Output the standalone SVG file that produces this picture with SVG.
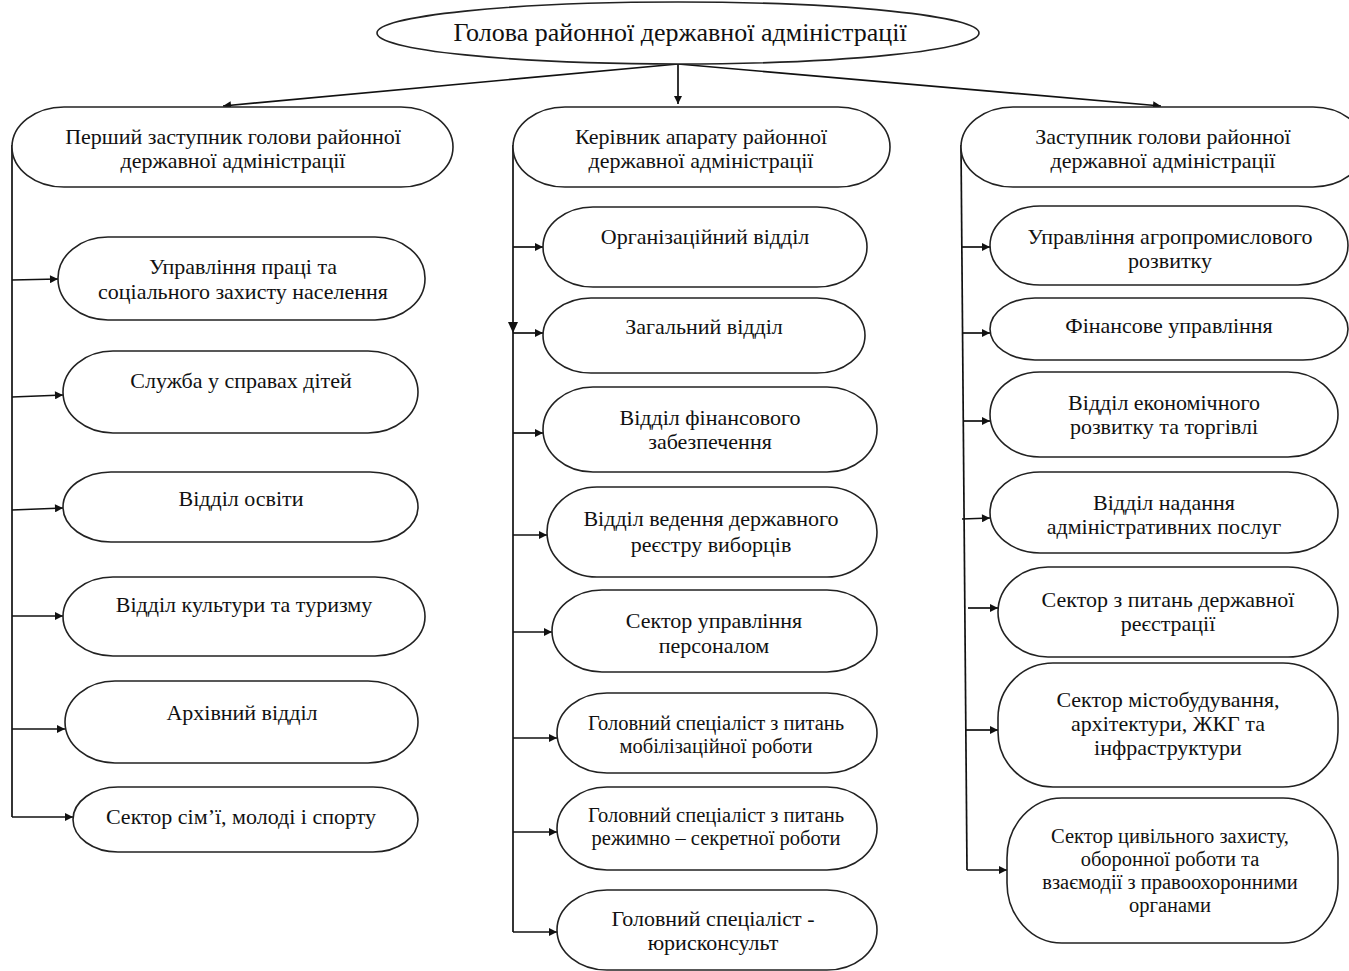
<svg xmlns="http://www.w3.org/2000/svg" width="1349" height="971" viewBox="0 0 1349 971">
<style>
.n{fill:#fff;stroke:#222;stroke-width:1.6}
.t{font-family:"Liberation Serif","Times New Roman",serif;font-size:22px;fill:#111;text-anchor:middle}
.s{font-size:20.5px}
.c{stroke:#111;stroke-width:1.7;fill:none}
</style>
<defs>
<marker id="a" viewBox="0 0 10 10" refX="10" refY="5" markerWidth="11" markerHeight="8" markerUnits="userSpaceOnUse" orient="auto"><path d="M0,0 L10,5 L0,10 z" fill="#111"/></marker>
</defs>
<rect width="1349" height="971" fill="#fff"/>
<g id="connectors">
<line class="c" x1="678" y1="64" x2="678" y2="104" marker-end="url(#a)"/>
<line class="c" x1="678" y1="64" x2="223" y2="106" marker-end="url(#a)"/>
<line class="c" x1="678" y1="64" x2="1161" y2="106" marker-end="url(#a)"/>
<line class="c" x1="12" y1="145" x2="12" y2="817"/>
<line class="c" x1="12" y1="280" x2="58" y2="279" marker-end="url(#a)"/>
<line class="c" x1="12" y1="397" x2="63" y2="395" marker-end="url(#a)"/>
<line class="c" x1="12" y1="510" x2="63" y2="508" marker-end="url(#a)"/>
<line class="c" x1="12" y1="616" x2="63" y2="616" marker-end="url(#a)"/>
<line class="c" x1="12" y1="729" x2="65" y2="729" marker-end="url(#a)"/>
<line class="c" x1="12" y1="817" x2="73" y2="817" marker-end="url(#a)"/>
<line class="c" x1="513" y1="145" x2="513" y2="932"/>
<line class="c" x1="513" y1="247" x2="543" y2="247" marker-end="url(#a)"/>
<path d="M508,322 L518,322 L513,333 z" fill="#111"/>
<line class="c" x1="513" y1="333" x2="543" y2="333" marker-end="url(#a)"/>
<line class="c" x1="513" y1="433" x2="543" y2="433" marker-end="url(#a)"/>
<line class="c" x1="513" y1="535" x2="547" y2="535" marker-end="url(#a)"/>
<line class="c" x1="513" y1="632" x2="552" y2="632" marker-end="url(#a)"/>
<line class="c" x1="513" y1="738" x2="557" y2="738" marker-end="url(#a)"/>
<line class="c" x1="513" y1="832" x2="557" y2="832" marker-end="url(#a)"/>
<line class="c" x1="513" y1="932" x2="557" y2="932" marker-end="url(#a)"/>
<line class="c" x1="961" y1="145" x2="967" y2="870"/>
<line class="c" x1="962" y1="247" x2="990" y2="247" marker-end="url(#a)"/>
<line class="c" x1="962" y1="333" x2="990" y2="333" marker-end="url(#a)"/>
<line class="c" x1="963" y1="421" x2="990" y2="421" marker-end="url(#a)"/>
<line class="c" x1="962" y1="519" x2="990" y2="518" marker-end="url(#a)"/>
<line class="c" x1="968" y1="608" x2="998" y2="608" marker-end="url(#a)"/>
<line class="c" x1="966" y1="730" x2="998" y2="730" marker-end="url(#a)"/>
<line class="c" x1="967" y1="870" x2="1007" y2="870" marker-end="url(#a)"/>
</g>
<g id="head"><ellipse class="n" cx="678" cy="33" rx="301" ry="31"/><text class="t" x="680" y="41" style="font-size:26px">Голова районної державної адміністрації</text></g>
<g id="dep1"><rect class="n" x="12" y="107" width="441" height="80" rx="52" ry="40"/><text class="t" y="144"><tspan x="233">Перший заступник голови районної</tspan><tspan x="233" dy="24">державної адміністрації</tspan></text></g>
<g id="dep2"><rect class="n" x="513" y="107" width="377" height="80" rx="52" ry="40"/><text class="t" y="144"><tspan x="701">Керівник апарату районної</tspan><tspan x="701" dy="24">державної адміністрації</tspan></text></g>
<g id="dep3"><rect class="n" x="961" y="107" width="404" height="80" rx="52" ry="40"/><text class="t" y="144"><tspan x="1163">Заступник голови районної</tspan><tspan x="1163" dy="24">державної адміністрації</tspan></text></g>

<g id="l1"><rect class="n" x="58" y="237" width="367" height="83" rx="50" ry="41"/><text class="t" y="274"><tspan x="243">Управління праці та</tspan><tspan x="243" dy="25">соціального захисту населення</tspan></text></g>
<g id="l2"><rect class="n" x="63" y="351" width="355" height="82" rx="50" ry="41"/><text class="t" x="241" y="388">Служба у справах дітей</text></g>
<g id="l3"><rect class="n" x="63" y="472" width="355" height="70" rx="48" ry="35"/><text class="t" x="241" y="506">Відділ освіти</text></g>
<g id="l4"><rect class="n" x="63" y="577" width="362" height="79" rx="50" ry="39.5"/><text class="t" x="244" y="612">Відділ культури та туризму</text></g>
<g id="l5"><rect class="n" x="65" y="681" width="353" height="82" rx="50" ry="41"/><text class="t" x="242" y="720">Архівний відділ</text></g>
<g id="l6"><rect class="n" x="73" y="787" width="345" height="65" rx="45" ry="32.5"/><text class="t" x="241" y="824">Сектор сім’ї, молоді і спорту</text></g>

<g id="m1"><rect class="n" x="543" y="207" width="324" height="80" rx="50" ry="40"/><text class="t" x="705" y="244">Організаційний відділ</text></g>
<g id="m2"><rect class="n" x="543" y="298" width="322" height="75" rx="48" ry="37.5"/><text class="t" x="704" y="334">Загальний відділ</text></g>
<g id="m3"><rect class="n" x="543" y="387" width="334" height="85" rx="50" ry="42.5"/><text class="t" y="425"><tspan x="710">Відділ фінансового</tspan><tspan x="710" dy="24">забезпечення</tspan></text></g>
<g id="m4"><rect class="n" x="547" y="487" width="330" height="90" rx="50" ry="45"/><text class="t" y="526"><tspan x="711">Відділ ведення державного</tspan><tspan x="711" dy="26">реєстру виборців</tspan></text></g>
<g id="m5"><rect class="n" x="552" y="590" width="325" height="82" rx="50" ry="41"/><text class="t" y="628"><tspan x="714">Сектор управління</tspan><tspan x="714" dy="25">персоналом</tspan></text></g>
<g id="m6"><rect class="n" x="557" y="693" width="320" height="80" rx="50" ry="40"/><text class="t s" y="730"><tspan x="716">Головний спеціаліст з питань</tspan><tspan x="716" dy="23">мобілізаційної роботи</tspan></text></g>
<g id="m7"><rect class="n" x="557" y="787" width="320" height="83" rx="50" ry="41.5"/><text class="t s" y="822"><tspan x="716">Головний спеціаліст з питань</tspan><tspan x="716" dy="23">режимно – секретної роботи</tspan></text></g>
<g id="m8"><rect class="n" x="557" y="890" width="320" height="80" rx="50" ry="40"/><text class="t" y="926"><tspan x="713">Головний спеціаліст -</tspan><tspan x="713" dy="24">юрисконсульт</tspan></text></g>

<g id="r1"><rect class="n" x="990" y="206" width="358" height="79" rx="50" ry="39.5"/><text class="t" y="244"><tspan x="1170">Управління агропромислового</tspan><tspan x="1170" dy="24">розвитку</tspan></text></g>
<g id="r2"><rect class="n" x="990" y="298" width="358" height="62" rx="45" ry="31"/><text class="t" x="1169" y="333">Фінансове управління</text></g>
<g id="r3"><rect class="n" x="990" y="372" width="348" height="85" rx="50" ry="42.5"/><text class="t" y="410"><tspan x="1164">Відділ економічного</tspan><tspan x="1164" dy="24">розвитку та торгівлі</tspan></text></g>
<g id="r4"><rect class="n" x="990" y="472" width="348" height="81" rx="50" ry="40.5"/><text class="t" y="510"><tspan x="1164">Відділ надання</tspan><tspan x="1164" dy="24">адміністративних послуг</tspan></text></g>
<g id="r5"><rect class="n" x="998" y="567" width="340" height="90" rx="50" ry="45"/><text class="t" y="607"><tspan x="1168">Сектор з питань державної</tspan><tspan x="1168" dy="24">реєстрації</tspan></text></g>
<g id="r6"><rect class="n" x="998" y="663" width="340" height="124" rx="55" ry="55"/><text class="t" y="707"><tspan x="1168">Сектор містобудування,</tspan><tspan x="1168" dy="24">архітектури, ЖКГ та</tspan><tspan x="1168" dy="24">інфраструктури</tspan></text></g>
<g id="r7"><rect class="n" x="1007" y="798" width="331" height="145" rx="55" ry="60"/><text class="t s" y="843"><tspan x="1170">Сектор цивільного захисту,</tspan><tspan x="1170" dy="23">оборонної роботи та</tspan><tspan x="1170" dy="23">взаємодії з правоохоронними</tspan><tspan x="1170" dy="23">органами</tspan></text></g>
</svg>
